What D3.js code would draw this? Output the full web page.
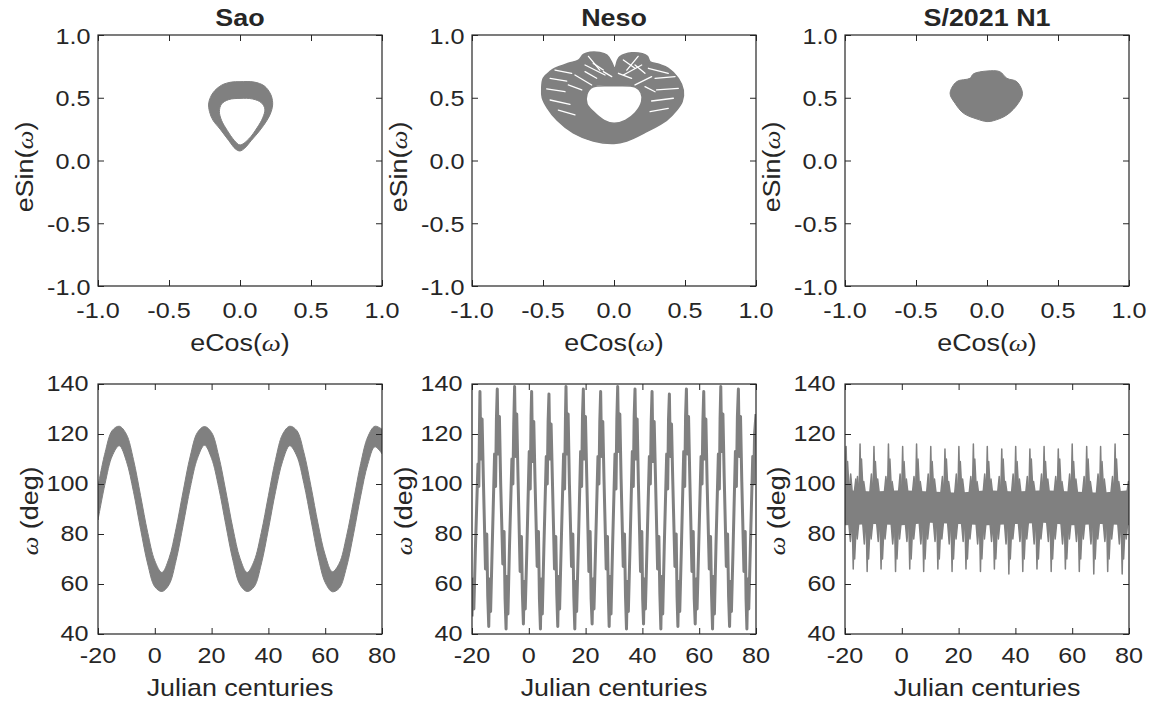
<!DOCTYPE html>
<html><head><meta charset="utf-8">
<script src="https://cdn.jsdelivr.net/npm/d3@7"></script>
<style>body{margin:0;background:#fff}svg{display:block}</style>
</head><body><svg id="c" width="1154" height="709"></svg>
<script>
// ---------------- DATA ----------------
const titles = ["Sao", "Neso", "S/2021 N1"];
const phaseTicks = [-1, -0.5, 0, 0.5, 1];
const phaseTickLabels = ["-1.0", "-0.5", "0.0", "0.5", "1.0"];
const timeTicks = [-20, 0, 20, 40, 60, 80];
const timeTickLabels = ["-20", "0", "20", "40", "60", "80"];
const omegaTicks = [40, 60, 80, 100, 120, 140];
const omegaTickLabels = ["40", "60", "80", "100", "120", "140"];

// Sao: eCos/eSin ring (outer and inner edge of the traced band)
const saoOuter = [[0,0.628],[0.1,0.625],[0.17,0.595],[0.215,0.53],[0.23,0.46],[0.22,0.39],[0.19,0.32],[0.14,0.24],[0.08,0.16],[0.03,0.095],[0.0,0.076],[-0.03,0.09],[-0.08,0.16],[-0.14,0.25],[-0.19,0.32],[-0.215,0.39],[-0.22,0.46],[-0.19,0.54],[-0.13,0.6],[-0.06,0.625]];
const saoInner = [[0,0.495],[0.09,0.49],[0.15,0.46],[0.175,0.41],[0.16,0.34],[0.12,0.26],[0.06,0.17],[0.0,0.124],[-0.04,0.16],[-0.09,0.24],[-0.13,0.32],[-0.145,0.39],[-0.13,0.45],[-0.08,0.485]];

// Neso: outer envelope, central hole, and white gaps in the web
const nesoOuter = [[-0.509,0.575],[-0.498,0.655],[-0.45,0.71],[-0.415,0.735],[-0.32,0.775],[-0.25,0.8],[-0.215,0.845],[-0.169,0.862],[-0.1,0.86],[-0.05,0.84],[-0.015,0.78],[0.005,0.735],[0.025,0.8],[0.042,0.827],[0.125,0.858],[0.2,0.85],[0.235,0.83],[0.254,0.787],[0.32,0.765],[0.382,0.735],[0.453,0.655],[0.488,0.56],[0.48,0.47],[0.44,0.4],[0.37,0.32],[0.23,0.23],[0.09,0.155],[0.0,0.135],[-0.146,0.155],[-0.287,0.22],[-0.4,0.32],[-0.47,0.42],[-0.505,0.5]];
const nesoHole = [[-0.15,0.585],[0.0,0.595],[0.15,0.585],[0.19,0.54],[0.195,0.47],[0.15,0.38],[0.08,0.32],[0.0,0.296],[-0.07,0.32],[-0.146,0.39],[-0.19,0.45],[-0.19,0.53]];
const nesoGaps = [[-0.45,0.655,-0.333,0.633],[-0.474,0.57,-0.345,0.548],[-0.45,0.482,-0.31,0.448],[-0.392,0.402,-0.275,0.363],[0.289,0.655,0.43,0.668],[0.3,0.562,0.453,0.575],[0.265,0.474,0.418,0.496],[0.254,0.389,0.382,0.416],[-0.204,0.761,-0.063,0.681],[0.066,0.681,0.195,0.761],[-0.275,0.681,-0.157,0.602],[0.148,0.602,0.265,0.668],[-0.18,0.83,-0.1,0.72],[0.09,0.72,0.17,0.83],
[-0.146,0.774,-0.075,0.721],[-0.204,0.708,-0.122,0.655],[-0.075,0.708,-0.016,0.668],[0.066,0.801,0.148,0.735],[0.148,0.761,0.218,0.695],[0.031,0.695,0.124,0.655],[-0.415,0.721,-0.298,0.695],[-0.322,0.602,-0.227,0.562],[0.242,0.735,0.382,0.695],[0.218,0.588,0.289,0.548]];

// S/2021 N1: filled cloud outline
const n1Outline = [[-0.26,0.535],[-0.214,0.628],[-0.12,0.655],[-0.096,0.69],[0.0,0.713],[0.09,0.708],[0.14,0.655],[0.21,0.628],[0.25,0.535],[0.22,0.456],[0.14,0.363],[0.045,0.317],[0.0,0.31],[-0.07,0.33],[-0.165,0.376],[-0.225,0.456]];

// Sao omega(t): band envelopes
const saoT = [-20,-17.5,-15,-12.5,-10,-7.5,-5,-2.5,0,2.5,5,7.5,10,12.5,15,17.5,20,22.5,25,27.5,30,32.5,35,37.5,40,42.5,45,47.5,50,52.5,55,57.5,60,62.5,65,67.5,70,72.5,75,77.5,80];
const saoUpper = [99.0,112.6,121.4,123.1,119.9,109.7,95.3,80.6,69.3,64.6,70.3,82.3,97.2,111.2,120.6,123.0,120.6,111.2,97.2,82.3,70.3,64.6,69.3,80.6,95.3,109.7,119.9,123.1,121.4,112.6,99.0,84.0,71.6,64.9,68.4,79.1,93.5,108.2,118.9,123.1,121.9];
const saoLower = [85.6,100.2,111.2,115.3,109.1,96.9,81.9,68.0,58.9,57.0,59.7,69.5,83.7,98.6,110.2,115.5,110.2,98.6,83.7,69.5,59.7,57.0,58.9,68.0,81.9,96.9,109.1,115.3,111.2,100.2,85.6,71.0,60.6,56.9,58.4,66.7,80.1,95.2,107.9,114.9,112.1];

// Neso omega(t): [t, deg]
const nesoSeries = [[-20,47],[-19.7,62],[-19.35,50],[-18.8,74],[-17.9,108],[-17.6,99],[-17.35,124],
[-17.2,137],[-16.85,110],[-16.45,126],[-16.0,102],[-15.25,66],[-14.8,80],[-14.45,55],[-14.1,43],[-13.8,62],[-13.45,49],[-12.9,74],[-12.05,112],[-11.7,99],[-11.4,126],
[-11.1,138],[-10.75,112],[-10.35,127],[-9.9,100],[-9.15,68],[-8.7,81],[-8.35,54],[-8.0,42],[-7.7,63],[-7.35,48],[-6.8,75],[-5.95,110],[-5.6,100],[-5.3,124],
[-5.0,139],[-4.65,111],[-4.25,128],[-3.8,103],[-3.05,65],[-2.6,79],[-2.25,56],[-1.9,44],[-1.6,61],[-1.25,50],[-0.7,73],[0.15,113],[0.5,98],[0.8,127],
[1.0,137],[1.35,109],[1.75,125],[2.2,101],[2.95,67],[3.4,81],[3.75,54],[4.1,42],[4.4,62],[4.75,48],[5.3,74],[6.15,111],[6.5,100],[6.8,125],
[7.1,136],[7.45,110],[7.85,124],[8.3,102],[9.05,66],[9.5,79],[9.85,56],[10.2,43],[10.5,63],[10.85,50],[11.4,75],[12.25,112],[12.6,98],[12.9,126],
[13.1,139],[13.45,112],[13.85,128],[14.3,100],[15.05,67],[15.5,80],[15.85,55],[16.2,42],[16.5,61],[16.85,49],[17.4,73],[18.25,113],[18.6,99],[18.9,127],
[19.2,138],[19.55,110],[19.95,127],[20.4,103],[21.15,65],[21.6,81],[21.95,54],[22.3,44],[22.6,62],[22.95,50],[23.5,74],[24.35,111],[24.7,100],[25.0,125],
[25.3,137],[25.65,111],[26.05,125],[26.5,101],[27.25,66],[27.7,79],[28.0,56],[28.3,43],[28.6,63],[28.95,48],[29.5,75],[30.35,112],[30.7,98],[31.0,126],
[31.3,139],[31.65,113],[32.05,128],[32.5,102],[33.25,67],[33.7,80],[34.05,55],[34.4,42],[34.7,61],[35.05,49],[35.6,73],[36.45,113],[36.8,99],[37.1,127],
[37.4,138],[37.75,110],[38.15,126],[38.6,100],[39.35,65],[39.8,81],[40.1,54],[40.4,44],[40.7,62],[41.05,50],[41.6,74],[42.45,111],[42.8,100],[43.1,125],
[43.4,137],[43.75,109],[44.15,125],[44.6,103],[45.35,66],[45.8,79],[46.15,56],[46.5,42],[46.8,63],[47.15,48],[47.7,75],[48.55,112],[48.9,98],[49.2,126],
[49.5,136],[49.85,111],[50.25,124],[50.7,101],[51.45,67],[51.9,80],[52.2,55],[52.5,43],[52.8,61],[53.15,49],[53.7,73],[54.55,113],[54.9,99],[55.2,127],
[55.5,138],[55.85,112],[56.25,127],[56.7,102],[57.45,65],[57.9,81],[58.25,54],[58.6,44],[58.9,62],[59.25,50],[59.8,74],[60.65,111],[61.0,100],[61.3,125],
[61.6,137],[61.95,110],[62.35,126],[62.8,100],[63.55,66],[64.0,79],[64.35,56],[64.7,42],[65.0,63],[65.35,48],[65.9,75],[66.75,112],[67.1,98],[67.35,126],
[67.6,139],[67.95,113],[68.35,128],[68.8,103],[69.55,67],[70.0,80],[70.35,55],[70.7,43],[71.0,61],[71.35,49],[71.9,73],[72.75,113],[73.1,99],[73.45,127],
[73.8,138],[74.15,111],[74.55,127],[75.0,101],[75.75,65],[76.2,81],[76.5,54],[76.8,42],[77.1,62],[77.45,50],[78.0,74],[78.85,111],[79.2,100],[79.5,120],[80,128]];

// S/2021 N1 omega(t): dense core band plus spikes above and below it
const n1CoreT = [-20,-10,0,10,20,30,40,50,60,70,80];
const n1CoreTop = [97.5,97,97.5,97,96.5,97.5,97,97.5,97,96.5,97.5];
const n1CoreBottom = [83.5,84,83.5,84.5,84,83.5,84,84.5,83.5,84,83.5];
const n1Up = [[-19.6,115],[-19.1,109],[-18.0,104],[-16.2,102],
[-14.7,116],[-14.2,110],[-15.6,103],[-13.4,101],
[-9.8,115],[-9.3,109],[-10.7,104],[-8.5,102],
[-4.7,116],[-4.2,110],[-5.6,103],[-3.4,101],
[0.3,115],[0.8,109],[-0.6,104],[1.6,102],
[5.2,116],[5.7,110],[4.3,103],[6.5,101],
[10.2,115],[10.7,109],[9.3,104],[11.5,102],
[15.2,114],[15.7,110],[14.3,103],[16.5,101],
[20.1,115],[20.6,109],[19.2,104],[21.4,102],
[25.2,116],[25.7,110],[24.3,103],[26.5,101],
[30.1,115],[30.6,109],[29.2,104],[31.4,102],
[35.2,114],[35.7,110],[34.3,103],[36.5,101],
[40.1,115],[40.6,109],[39.2,104],[41.4,102],
[45.1,114],[45.6,110],[44.2,103],[46.4,101],
[50.1,115],[50.6,109],[49.2,104],[51.4,102],
[55.1,114],[55.6,110],[54.2,103],[56.4,101],
[60.0,116],[60.5,109],[59.1,104],[61.3,102],
[65.1,115],[65.6,110],[64.2,103],[66.4,101],
[70.0,115],[70.5,109],[69.1,104],[71.3,102],
[75.1,116],[75.6,110],[74.2,103],[76.4,101],[79.8,101]];
const n1Down = [[-17.1,66],[-16.6,70],[-18.1,77],[-15.7,78],
[-12.2,65],[-11.7,70],[-13.2,76],[-10.8,78],
[-7.3,66],[-6.8,70],[-8.3,77],[-5.9,78],
[-2.2,65],[-1.7,70],[-3.2,76],[-0.8,78],
[2.8,66],[3.3,70],[1.8,77],[4.2,78],
[7.7,65],[8.2,70],[6.7,76],[9.1,78],
[12.7,66],[13.2,70],[11.7,77],[14.1,78],
[17.7,65],[18.2,70],[16.7,76],[19.1,78],
[22.6,66],[23.1,70],[21.6,77],[24.0,78],
[27.7,65],[28.2,70],[26.7,76],[29.1,78],
[32.6,66],[33.1,70],[31.6,77],[34.0,78],
[37.7,64],[38.2,70],[36.7,76],[39.1,78],
[42.6,65],[43.1,70],[41.6,77],[44.0,78],
[47.6,66],[48.1,70],[46.6,76],[49.0,78],
[52.6,65],[53.1,70],[51.6,77],[54.0,78],
[57.6,66],[58.1,70],[56.6,76],[59.0,78],
[62.5,65],[63.0,70],[61.5,77],[63.9,78],
[67.6,64],[68.1,70],[66.6,76],[69.0,78],
[72.5,65],[73.0,70],[71.5,77],[73.9,78],
[77.6,64],[78.1,70],[76.6,76],[79.0,78]];

// ---------------- DRAWING ----------------
const svg = d3.select("#c");
const GRAY = "#808080", INK = "#262626";
const FONT = '"Liberation Sans", Arial, Helvetica, sans-serif';
const SX = 1.12;
const colLeft = [98, 472, 845];
const PW = 284;
const topRow = [35, 286], botRow = [384, 634];

function text(x, y, size, anchor, opts = {}) {
  const g = svg.append("g").attr("transform",
    `translate(${x},${y})${opts.rotate ? ` rotate(${opts.rotate})` : ""} scale(${SX},1)`);
  const t = g.append("text").attr("text-anchor", anchor).attr("font-size", size)
    .attr("font-family", FONT).attr("fill", INK);
  if (opts.bold) t.attr("font-weight", "bold");
  return t;
}
function omegaLabel(t, before, after) {
  t.append("tspan").text(before);
  t.append("tspan").attr("font-style", "italic").attr("font-family", '"Liberation Serif", serif').text("ω");
  t.append("tspan").text(after);
}

let clipId = 0;
function panel(x, y) {
  const id = "clip" + (clipId++);
  const [x0, x1] = x.range(), [y1, y0] = y.range();
  svg.append("clipPath").attr("id", id).append("rect")
    .attr("x", x0).attr("y", y0).attr("width", x1 - x0).attr("height", y1 - y0);
  return svg.append("g").attr("clip-path", `url(#${id})`);
}
function frame(x, y, xt, yt, xl, yl, xLabY, yOff, yRight) {
  const [x0, x1] = x.range(), [y1, y0] = y.range();
  const T = 6;
  const g = svg.append("g");
  const ax = (gen, tr) => g.append("g").attr("transform", tr)
    .call(gen.tickSize(-T).tickFormat(""))
    .call(s => { s.select(".domain").remove(); s.selectAll("line").attr("stroke", INK).attr("stroke-width", 1); });
  ax(d3.axisBottom(x).tickValues(xt), `translate(0,${y1})`);
  ax(d3.axisTop(x).tickValues(xt), `translate(0,${y0})`);
  ax(d3.axisLeft(y).tickValues(yt), `translate(${x0},0)`);
  ax(d3.axisRight(y).tickValues(yt), `translate(${x1},0)`);
  g.append("rect").attr("x", x0).attr("y", y0).attr("width", x1 - x0).attr("height", y1 - y0)
    .attr("fill", "none").attr("stroke", INK).attr("stroke-width", 1.2);
  xt.forEach((v, i) => text(x(v), xLabY, 22.5, "middle").text(xl[i]));
  yt.forEach((v, i) => text(x0 - yRight, y(v) + yOff, 22.5, "end").text(yl[i]));
}

const closed = (xs, ys) => d3.line().x(d => xs(d[0])).y(d => ys(d[1])).curve(d3.curveCatmullRomClosed.alpha(0.5));

for (let c = 0; c < 3; c++) {
  const L = colLeft[c];
  const xs = d3.scaleLinear([-1, 1], [L, L + PW]);
  const ys = d3.scaleLinear([-1, 1], [topRow[1], topRow[0]]);
  const xt = d3.scaleLinear([-20, 80], [L, L + PW]);
  const yt = d3.scaleLinear([40, 140], [botRow[1], botRow[0]]);

  // ---- top: eCos vs eSin ----
  const gt = panel(xs, ys);
  const ln = closed(xs, ys);
  if (c === 0) {
    gt.append("path").attr("d", ln(saoOuter) + ln(saoInner)).attr("fill-rule", "evenodd")
      .attr("fill", GRAY).attr("stroke", GRAY).attr("stroke-width", 1);
  } else if (c === 1) {
    gt.append("path").attr("d", ln(nesoOuter) + ln(nesoHole)).attr("fill-rule", "evenodd")
      .attr("fill", GRAY).attr("stroke", GRAY).attr("stroke-width", 1.5);
    gt.selectAll("line.gap").data(nesoGaps).join("line").attr("class", "gap")
      .attr("x1", d => xs(d[0])).attr("y1", d => ys(d[1])).attr("x2", d => xs(d[2])).attr("y2", d => ys(d[3]))
      .attr("stroke", "#ffffff").attr("stroke-width", 1.3).attr("stroke-linecap", "round");
  } else {
    gt.append("path").attr("d", ln(n1Outline)).attr("fill", GRAY).attr("stroke", GRAY).attr("stroke-width", 1);
  }
  frame(xs, ys, phaseTicks, phaseTicks, phaseTickLabels, phaseTickLabels, 318, 8.5, 7.5);
  text(L + PW / 2, 26, 24, "middle", { bold: true }).text(titles[c]);
  omegaLabel(text(L + PW / 2, 351, 24, "middle"), "eCos(", ")");
  omegaLabel(text(L - 65, 167, 24, "middle", { rotate: -90 }), "eSin(", ")");

  // ---- bottom: omega vs time ----
  const gb = panel(xt, yt);
  if (c === 0) {
    const area = d3.area().x((d, i) => xt(saoT[i])).y0((d, i) => yt(saoLower[i])).y1((d, i) => yt(saoUpper[i]))
      .curve(d3.curveCatmullRom);
    gb.append("path").attr("d", area(saoT)).attr("fill", GRAY).attr("stroke", GRAY).attr("stroke-width", 1);
  } else if (c === 1) {
    const line = d3.line().x(d => xt(d[0])).y(d => yt(d[1]));
    gb.append("path").attr("d", line(nesoSeries)).attr("fill", "none").attr("stroke", GRAY)
      .attr("stroke-width", 3).attr("stroke-linejoin", "round");
  } else {
    const area = d3.area().x((d, i) => xt(n1CoreT[i])).y0((d, i) => yt(n1CoreBottom[i])).y1((d, i) => yt(n1CoreTop[i]));
    gb.append("path").attr("d", area(n1CoreT)).attr("fill", GRAY);
    const spike = (base) => d => {
      const w = Math.abs(d[1] - base) > 15 ? 0.35 : 0.6;
      return `M${xt(d[0] - w)},${yt(base)}L${xt(d[0])},${yt(d[1])}L${xt(d[0] + w)},${yt(base)}Z`;
    };
    gb.selectAll("path.up").data(n1Up).join("path").attr("class", "up").attr("d", spike(96))
      .attr("fill", GRAY).attr("stroke", GRAY).attr("stroke-width", 1.5).attr("stroke-linejoin", "round");
    gb.selectAll("path.dn").data(n1Down).join("path").attr("class", "dn").attr("d", spike(85))
      .attr("fill", GRAY).attr("stroke", GRAY).attr("stroke-width", 1.5).attr("stroke-linejoin", "round");
  }
  frame(xt, yt, timeTicks, omegaTicks, timeTickLabels, omegaTickLabels, 663, 7, 9.5);
  text(L + PW / 2, 696, 24, "middle").text("Julian centuries");
  omegaLabel(text(L - 60, 511, 24, "middle", { rotate: -90 }), "", " (deg)");
}
</script></body></html>
